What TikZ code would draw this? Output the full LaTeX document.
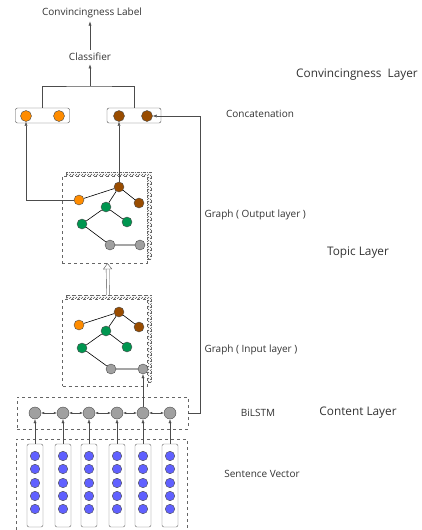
\documentclass[tikz,border=0pt]{standalone}
\usepackage{fontspec}
\setmainfont{Open Sans}
\usetikzlibrary{arrows.meta,patterns}

\definecolor{dotorange}{RGB}{255,140,0}
\definecolor{dotbrown}{RGB}{153,76,0}
\definecolor{dotgreen}{RGB}{0,150,80}
\definecolor{dotgray}{RGB}{160,160,160}
\definecolor{dotblue}{RGB}{96,96,255}
\definecolor{txtgray}{RGB}{51,51,51}

\tikzset{
  dot/.style={circle, draw=black!70, inner sep=0pt, minimum size=#1},
  dot/.default=10pt,
  arr/.style={-{Latex[length=4pt,width=3pt]}, black!70},
  dashbox/.style={draw=black!60, dashed, inner sep=0pt},
  edge/.style={semithick},
  lbl/.style={font=\fontsize{10}{12}\selectfont, text=txtgray},
  layer/.style={font=\fontsize{11.8}{14}\selectfont, text=txtgray},
}

\begin{document}
\begin{tikzpicture}[x=1pt, y=-1pt]
  \useasboundingbox (0,0) rectangle (421,530);

  % labels
  \node[lbl] (lab) at (92,13) {Convincingness Label};
  \node[lbl] (clf) at (90,57) {Classifier};
  \node[layer] (lyconv) at (357,75) {Convincingness\ \ Layer};
  \node[lbl] (lcat) at (260,114) {Concatenation};
  \node[lbl, anchor=west] (lgout) at (201,215) {Graph ( Output layer )};
  \node[layer] (lytop) at (358,253) {Topic Layer};
  \node[lbl, anchor=west] (lgin) at (201,350) {Graph ( Input layer )};
  \node[lbl] (llstm) at (258,413) {BiLSTM};
  \node[layer] (lycont) at (358,413) {Content Layer};
  \node[lbl] (lsent) at (262,474) {Sentence Vector};

  % concatenation
  \node[draw=black!70, rounded corners=2pt, minimum width=54pt, minimum height=15pt] (con1) at (42.5,115.5) {};
  \node[draw=black!70, rounded corners=2pt, minimum width=54pt, minimum height=15pt] (con2) at (134,115.5) {};
  \node[dot=11pt, fill=dotorange] (co1) at (26,116) {};
  \node[dot=11pt, fill=dotorange] (co2) at (59,116) {};
  \node[dot=11pt, fill=dotbrown] (cb1) at (119,116) {};
  \node[dot=11pt, fill=dotbrown] (cb2) at (147,116) {};

  \coordinate (mid) at (90,86);
  \draw[black!70] (con1.north) |- (mid) -| (con2.north);
  \draw[arr] (mid) -- (clf.south);
  \draw[arr] (clf.north) -- (clf.north |- lab.south);

  % graph boxes
  \foreach \n/\x/\y in {gout/104.5/219.5, gin/105/342.5}{
    \draw[black!60, dashed, pattern=north east lines, pattern color=black!70]
      (\x-42.5+4,\y-43.5-4) rectangle (\x+42.5+4,\y+43.5-4);
    \node[dashbox, fill=white, minimum width=85pt, minimum height=87pt] (\n) at (\x,\y) {};
  }

  % output graph
  \node[dot, fill=dotbrown]  (go1) at (119,187) {};
  \node[dot, fill=dotbrown]  (go2) at (139,203) {};
  \node[dot, fill=dotorange] (go3) at (79,200) {};
  \node[dot, fill=dotgreen]  (go4) at (106,207) {};
  \node[dot, fill=dotgreen]  (go5) at (127,222) {};
  \node[dot, fill=dotgreen]  (go6) at (82,224) {};
  \node[dot, fill=dotgray]   (go7) at (110,245) {};
  \node[dot, fill=dotgray]   (go8) at (140,245) {};
  \draw[edge] (go3) -- (go1) -- (go2) (go1) -- (go4) -- (go5) (go4) -- (go6) -- (go7) -- (go8);

  % input graph
  \node[dot, fill=dotbrown]  (gi1) at (119,312) {};
  \node[dot, fill=dotbrown]  (gi2) at (139,327) {};
  \node[dot, fill=dotorange] (gi3) at (79,325) {};
  \node[dot, fill=dotgreen]  (gi4) at (106,331) {};
  \node[dot, fill=dotgreen]  (gi5) at (127,347) {};
  \node[dot, fill=dotgreen]  (gi6) at (82,348) {};
  \node[dot, fill=dotgray]   (gi7) at (111,369) {};
  \node[dot, fill=dotgray]   (gi8) at (143,369) {};
  \draw[edge] (gi3) -- (gi1) -- (gi2) (gi1) -- (gi4) -- (gi5) (gi4) -- (gi6) -- (gi7) -- (gi8);

  \draw[black!70, double distance=2.5pt, -{Triangle[open, length=6pt, width=9pt]}]
    (gin.north) ++(3,-4) -- ([xshift=3pt]gout.south);

  \draw[arr] (go3.west) -| (co1.south);
  \draw[arr] (go1.north) -- (cb1.south);

  % BiLSTM
  \node[dashbox, minimum width=171pt, minimum height=32pt] (lstm) at (102.5,413) {};
  \foreach \x [count=\i] in {35,63,89,117,143,170}
    \node[dot=12pt, fill=dotgray] (b\i) at (\x,413) {};
  \foreach \i [evaluate=\i as \j using int(\i+1)] in {1,...,5}
    \draw[{Latex[length=3pt,width=2.5pt]}-{Latex[length=3pt,width=2.5pt]}, black!70] (b\i) -- (b\j);
  \draw[arr] (lstm.east) -- ++(12,0) |- (cb2.east);
  \draw[arr] (b5.north) -- (gi8.south);

  % sentence vectors
  \draw[black!60, dashed] (16,530) -- (16,439) -- (187,439) -- (187,530);
  \foreach \x [count=\i] in {35,63,89,117,143,170}{
    \node[draw=black!60, rounded corners=2pt, minimum width=16pt, minimum height=83pt] (s\i) at (\x,485.5) {};
    \foreach \y in {456,469,483,496,509}
      \node[dot=9.5pt, fill=dotblue] at (\x,\y) {};
    \draw[arr] (s\i.north) -- (b\i.south);
  }
\end{tikzpicture}
\end{document}
